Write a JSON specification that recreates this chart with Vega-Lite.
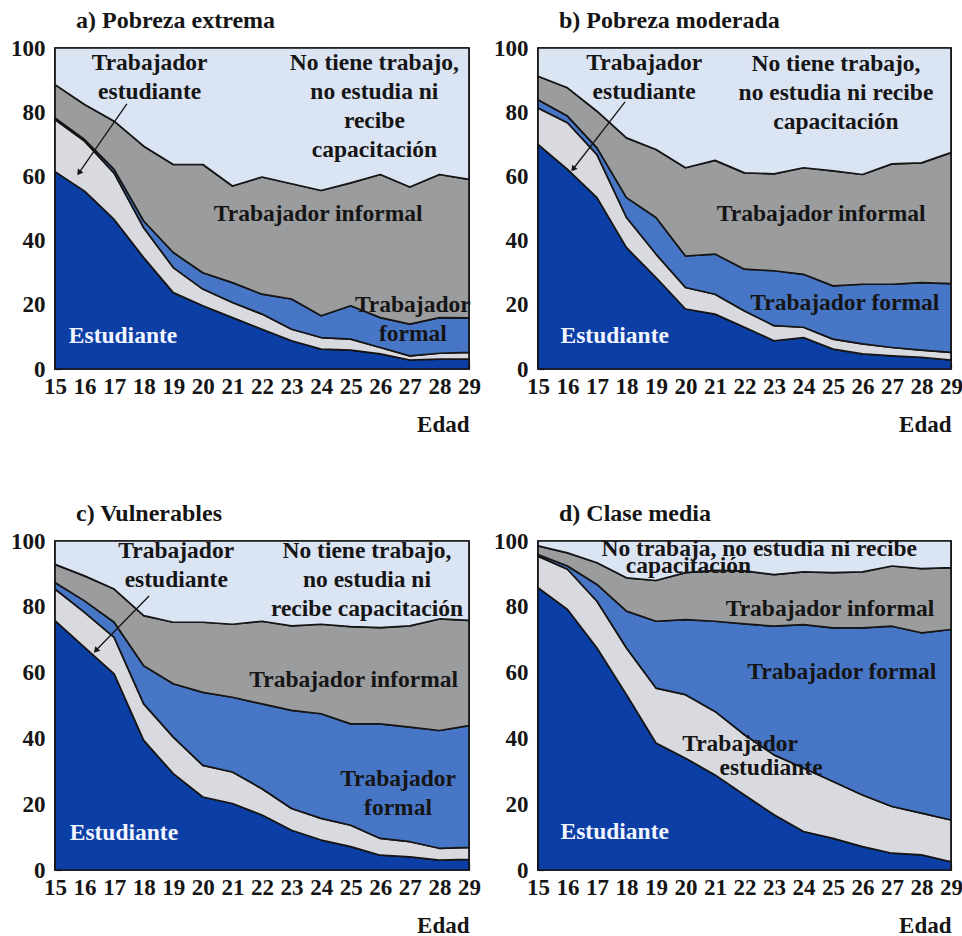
{
  "$schema": "https://vega.github.io/schema/vega-lite/v6.json",
  "background": "white",
  "padding": {"left": 9, "top": 8, "right": 0, "bottom": 0},
  "datasets": {
    "categorias": [
      {"categoria": "estudiante", "orden": 1},
      {"categoria": "trab_estudiante", "orden": 2},
      {"categoria": "formal", "orden": 3},
      {"categoria": "informal", "orden": 4},
      {"categoria": "ninguno", "orden": 5}
    ],
    "series": [
      {"panel": "a", "edad": 15, "estudiante": 61.5, "trab_estudiante": 16.2, "formal": 0.5, "informal": 10.4, "ninguno": 11.4},
      {"panel": "a", "edad": 16, "estudiante": 55.4, "trab_estudiante": 15.6, "formal": 0.5, "informal": 10.9, "ninguno": 17.6},
      {"panel": "a", "edad": 17, "estudiante": 46.6, "trab_estudiante": 14.4, "formal": 1.2, "informal": 15.0, "ninguno": 22.8},
      {"panel": "a", "edad": 18, "estudiante": 34.7, "trab_estudiante": 9.3, "formal": 2.1, "informal": 23.3, "ninguno": 30.6},
      {"panel": "a", "edad": 19, "estudiante": 23.8, "trab_estudiante": 7.8, "formal": 4.7, "informal": 27.4, "ninguno": 36.3},
      {"panel": "a", "edad": 20, "estudiante": 19.7, "trab_estudiante": 5.2, "formal": 5.1, "informal": 33.7, "ninguno": 36.3},
      {"panel": "a", "edad": 21, "estudiante": 16.0, "trab_estudiante": 4.7, "formal": 6.2, "informal": 30.1, "ninguno": 43.0},
      {"panel": "a", "edad": 22, "estudiante": 12.4, "trab_estudiante": 4.7, "formal": 6.2, "informal": 36.5, "ninguno": 40.2},
      {"panel": "a", "edad": 23, "estudiante": 8.8, "trab_estudiante": 3.6, "formal": 9.4, "informal": 35.9, "ninguno": 42.3},
      {"panel": "a", "edad": 24, "estudiante": 6.2, "trab_estudiante": 3.6, "formal": 6.8, "informal": 39.0, "ninguno": 44.4},
      {"panel": "a", "edad": 25, "estudiante": 5.9, "trab_estudiante": 3.4, "formal": 10.4, "informal": 38.3, "ninguno": 42.0},
      {"panel": "a", "edad": 26, "estudiante": 4.7, "trab_estudiante": 2.0, "formal": 9.3, "informal": 44.6, "ninguno": 39.4},
      {"panel": "a", "edad": 27, "estudiante": 2.8, "trab_estudiante": 1.3, "formal": 9.9, "informal": 42.7, "ninguno": 43.3},
      {"panel": "a", "edad": 28, "estudiante": 3.1, "trab_estudiante": 1.8, "formal": 11.1, "informal": 44.6, "ninguno": 39.4},
      {"panel": "a", "edad": 29, "estudiante": 3.1, "trab_estudiante": 2.1, "formal": 10.7, "informal": 43.2, "ninguno": 40.9},

      {"panel": "b", "edad": 15, "estudiante": 70.0, "trab_estudiante": 11.3, "formal": 2.6, "informal": 7.3, "ninguno": 8.8},
      {"panel": "b", "edad": 16, "estudiante": 62.2, "trab_estudiante": 14.5, "formal": 2.1, "informal": 8.8, "ninguno": 12.4},
      {"panel": "b", "edad": 17, "estudiante": 53.4, "trab_estudiante": 13.4, "formal": 2.1, "informal": 11.4, "ninguno": 19.7},
      {"panel": "b", "edad": 18, "estudiante": 37.8, "trab_estudiante": 9.4, "formal": 6.2, "informal": 18.6, "ninguno": 28.0},
      {"panel": "b", "edad": 19, "estudiante": 28.5, "trab_estudiante": 7.3, "formal": 11.4, "informal": 21.2, "ninguno": 31.6},
      {"panel": "b", "edad": 20, "estudiante": 18.7, "trab_estudiante": 6.7, "formal": 9.8, "informal": 27.5, "ninguno": 37.3},
      {"panel": "b", "edad": 21, "estudiante": 17.1, "trab_estudiante": 6.2, "formal": 12.5, "informal": 29.2, "ninguno": 35.0},
      {"panel": "b", "edad": 22, "estudiante": 13.0, "trab_estudiante": 5.1, "formal": 13.0, "informal": 30.0, "ninguno": 38.9},
      {"panel": "b", "edad": 23, "estudiante": 8.8, "trab_estudiante": 4.7, "formal": 17.1, "informal": 30.2, "ninguno": 39.2},
      {"panel": "b", "edad": 24, "estudiante": 9.8, "trab_estudiante": 3.2, "formal": 16.5, "informal": 33.2, "ninguno": 37.3},
      {"panel": "b", "edad": 25, "estudiante": 6.2, "trab_estudiante": 3.1, "formal": 16.6, "informal": 35.8, "ninguno": 38.3},
      {"panel": "b", "edad": 26, "estudiante": 4.7, "trab_estudiante": 3.1, "formal": 18.6, "informal": 34.2, "ninguno": 39.4},
      {"panel": "b", "edad": 27, "estudiante": 4.1, "trab_estudiante": 2.6, "formal": 19.7, "informal": 37.5, "ninguno": 36.1},
      {"panel": "b", "edad": 28, "estudiante": 3.6, "trab_estudiante": 2.3, "formal": 21.0, "informal": 37.3, "ninguno": 35.8},
      {"panel": "b", "edad": 29, "estudiante": 2.8, "trab_estudiante": 2.4, "formal": 21.4, "informal": 40.8, "ninguno": 32.6},

      {"panel": "c", "edad": 15, "estudiante": 75.8, "trab_estudiante": 9.6, "formal": 2.0, "informal": 5.5, "ninguno": 7.1},
      {"panel": "c", "edad": 16, "estudiante": 67.7, "trab_estudiante": 10.6, "formal": 3.5, "informal": 7.6, "ninguno": 10.6},
      {"panel": "c", "edad": 17, "estudiante": 59.6, "trab_estudiante": 11.1, "formal": 4.6, "informal": 10.1, "ninguno": 14.6},
      {"panel": "c", "edad": 18, "estudiante": 39.4, "trab_estudiante": 11.1, "formal": 11.6, "informal": 15.2, "ninguno": 22.7},
      {"panel": "c", "edad": 19, "estudiante": 29.3, "trab_estudiante": 11.1, "formal": 16.2, "informal": 18.7, "ninguno": 24.7},
      {"panel": "c", "edad": 20, "estudiante": 22.2, "trab_estudiante": 9.6, "formal": 22.2, "informal": 21.3, "ninguno": 24.7},
      {"panel": "c", "edad": 21, "estudiante": 20.2, "trab_estudiante": 9.6, "formal": 22.7, "informal": 22.2, "ninguno": 25.3},
      {"panel": "c", "edad": 22, "estudiante": 16.7, "trab_estudiante": 8.0, "formal": 25.8, "informal": 25.1, "ninguno": 24.4},
      {"panel": "c", "edad": 23, "estudiante": 12.1, "trab_estudiante": 6.6, "formal": 29.8, "informal": 25.7, "ninguno": 25.8},
      {"panel": "c", "edad": 24, "estudiante": 9.1, "trab_estudiante": 6.6, "formal": 31.8, "informal": 27.2, "ninguno": 25.3},
      {"panel": "c", "edad": 25, "estudiante": 7.1, "trab_estudiante": 6.5, "formal": 30.8, "informal": 29.6, "ninguno": 26.0},
      {"panel": "c", "edad": 26, "estudiante": 4.5, "trab_estudiante": 5.1, "formal": 34.8, "informal": 29.3, "ninguno": 26.3},
      {"panel": "c", "edad": 27, "estudiante": 4.0, "trab_estudiante": 4.6, "formal": 34.8, "informal": 30.8, "ninguno": 25.8},
      {"panel": "c", "edad": 28, "estudiante": 3.0, "trab_estudiante": 3.6, "formal": 35.8, "informal": 33.9, "ninguno": 23.7},
      {"panel": "c", "edad": 29, "estudiante": 3.2, "trab_estudiante": 3.7, "formal": 37.0, "informal": 32.0, "ninguno": 24.1},

      {"panel": "d", "edad": 15, "estudiante": 85.8, "trab_estudiante": 9.6, "formal": 0.5, "informal": 2.6, "ninguno": 1.5},
      {"panel": "d", "edad": 16, "estudiante": 79.2, "trab_estudiante": 12.2, "formal": 1.0, "informal": 4.0, "ninguno": 3.6},
      {"panel": "d", "edad": 17, "estudiante": 67.5, "trab_estudiante": 14.2, "formal": 5.1, "informal": 6.6, "ninguno": 6.6},
      {"panel": "d", "edad": 18, "estudiante": 53.3, "trab_estudiante": 14.2, "formal": 11.2, "informal": 10.1, "ninguno": 11.2},
      {"panel": "d", "edad": 19, "estudiante": 38.6, "trab_estudiante": 16.7, "formal": 20.3, "informal": 12.4, "ninguno": 12.0},
      {"panel": "d", "edad": 20, "estudiante": 34.0, "trab_estudiante": 19.3, "formal": 22.8, "informal": 14.3, "ninguno": 9.6},
      {"panel": "d", "edad": 21, "estudiante": 28.9, "trab_estudiante": 19.3, "formal": 27.4, "informal": 15.5, "ninguno": 8.9},
      {"panel": "d", "edad": 22, "estudiante": 22.8, "trab_estudiante": 18.3, "formal": 33.7, "informal": 16.1, "ninguno": 9.1},
      {"panel": "d", "edad": 23, "estudiante": 16.8, "trab_estudiante": 18.2, "formal": 39.1, "informal": 15.7, "ninguno": 10.2},
      {"panel": "d", "edad": 24, "estudiante": 11.7, "trab_estudiante": 19.3, "formal": 43.6, "informal": 16.0, "ninguno": 9.4},
      {"panel": "d", "edad": 25, "estudiante": 9.6, "trab_estudiante": 17.3, "formal": 46.7, "informal": 16.8, "ninguno": 9.6},
      {"panel": "d", "edad": 26, "estudiante": 7.1, "trab_estudiante": 15.7, "formal": 50.8, "informal": 17.0, "ninguno": 9.4},
      {"panel": "d", "edad": 27, "estudiante": 5.1, "trab_estudiante": 14.2, "formal": 54.8, "informal": 18.3, "ninguno": 7.6},
      {"panel": "d", "edad": 28, "estudiante": 4.6, "trab_estudiante": 12.7, "formal": 54.8, "informal": 19.5, "ninguno": 8.4},
      {"panel": "d", "edad": 29, "estudiante": 2.5, "trab_estudiante": 12.7, "formal": 57.9, "informal": 18.8, "ninguno": 8.1}
    ],
    "etiquetas": [
      {"panel": "a", "texto": "Trabajador\nestudiante", "edad": 18.2, "valor": 95.3},
      {"panel": "a", "texto": "No tiene trabajo,\nno estudia ni\nrecibe\ncapacitación", "edad": 25.8, "valor": 95.3},
      {"panel": "a", "texto": "Trabajador informal", "edad": 23.9, "valor": 48.3},
      {"panel": "a", "texto": "Trabajador\nformal", "edad": 27.1, "valor": 19.8},
      {"panel": "a", "texto": "Estudiante", "edad": 17.3, "valor": 10.3},
      {"panel": "b", "texto": "Trabajador\nestudiante", "edad": 18.6, "valor": 95.3},
      {"panel": "b", "texto": "No tiene trabajo,\nno estudia ni recibe\ncapacitación", "edad": 25.1, "valor": 95.0},
      {"panel": "b", "texto": "Trabajador informal", "edad": 24.6, "valor": 48.3},
      {"panel": "b", "texto": "Trabajador formal", "edad": 25.4, "valor": 20.6},
      {"panel": "b", "texto": "Estudiante", "edad": 17.6, "valor": 10.3},
      {"panel": "c", "texto": "Trabajador\nestudiante", "edad": 19.1, "valor": 97.0},
      {"panel": "c", "texto": "No tiene trabajo,\nno estudia ni\nrecibe capacitación", "edad": 25.55, "valor": 97.0},
      {"panel": "c", "texto": "Trabajador informal", "edad": 25.1, "valor": 57.6},
      {"panel": "c", "texto": "Trabajador\nformal", "edad": 26.6, "valor": 27.8},
      {"panel": "c", "texto": "Estudiante", "edad": 17.33, "valor": 11.2},
      {"panel": "d", "texto": "No trabaja, no estudia ni recibe", "edad": 22.5, "valor": 97.6},
      {"panel": "d", "texto": "capacitación", "edad": 20.1, "valor": 92.4},
      {"panel": "d", "texto": "Trabajador informal", "edad": 24.9, "valor": 79.3},
      {"panel": "d", "texto": "Trabajador formal", "edad": 25.3, "valor": 60.1},
      {"panel": "d", "texto": "Trabajador", "edad": 21.85, "valor": 38.2},
      {"panel": "d", "texto": "estudiante", "edad": 22.9, "valor": 30.9},
      {"panel": "d", "texto": "Estudiante", "edad": 17.6, "valor": 11.6}
    ],
    "flechas": [
      {"panel": "a", "edad": 17.43, "valor": 82.6, "edad_fin": 15.81, "valor_fin": 61.1},
      {"panel": "b", "edad": 17.95, "valor": 83.2, "edad_fin": 16.19, "valor_fin": 62.3},
      {"panel": "c", "edad": 18.18, "valor": 83.3, "edad_fin": 16.38, "valor_fin": 66.7}
    ]
  },
  "vconcat": [
    {
      "hconcat": [
        {
          "title": {"text": "a) Pobreza extrema"},
          "width": 414,
          "height": 321,
          "layer": [
            {
              "data": {"name": "series"},
              "transform": [
                {"filter": "datum.panel === 'a'"},
                {"fold": ["estudiante", "trab_estudiante", "formal", "informal", "ninguno"], "as": ["categoria", "porcentaje"]},
                {"lookup": "categoria", "from": {"data": {"name": "categorias"}, "key": "categoria", "fields": ["orden"]}}
              ],
              "mark": {"type": "area", "stroke": "#151515", "strokeWidth": 1.7, "strokeJoin": "round"},
              "encoding": {
                "x": {"field": "edad", "type": "quantitative", "title": "Edad", "scale": {"domain": [15, 29], "nice": false, "zero": false}},
                "y": {"field": "porcentaje", "type": "quantitative", "stack": "zero", "title": null, "scale": {"domain": [0, 100], "nice": false}},
                "color": {"field": "categoria", "type": "nominal", "scale": {"domain": ["estudiante", "trab_estudiante", "formal", "informal", "ninguno"], "range": ["#0c3fa6", "#d9dadf", "#4876c6", "#9b9c9e", "#dbe4f3"]}, "legend": null},
                "order": {"field": "orden", "type": "quantitative", "sort": "ascending"}
              }
            },
            {
              "data": {"name": "etiquetas"},
              "transform": [{"filter": "datum.panel === 'a' && datum.texto !== 'Estudiante'"}],
              "mark": {"type": "text", "color": "#151515"},
              "encoding": {"x": {"field": "edad", "type": "quantitative", "title": "Edad"}, "y": {"field": "valor", "type": "quantitative", "title": null}, "text": {"field": "texto"}}
            },
            {
              "data": {"name": "etiquetas"},
              "transform": [{"filter": "datum.panel === 'a' && datum.texto === 'Estudiante'"}],
              "mark": {"type": "text", "color": "#f2f5ff"},
              "encoding": {"x": {"field": "edad", "type": "quantitative", "title": "Edad"}, "y": {"field": "valor", "type": "quantitative", "title": null}, "text": {"field": "texto"}}
            },
            {
              "data": {"name": "flechas"},
              "transform": [{"filter": "datum.panel === 'a'"}],
              "mark": {"type": "rule", "color": "#151515", "strokeWidth": 1.3},
              "encoding": {"x": {"field": "edad", "type": "quantitative", "title": "Edad"}, "y": {"field": "valor", "type": "quantitative", "title": null}, "x2": {"field": "edad_fin"}, "y2": {"field": "valor_fin"}}
            },
            {
              "data": {"name": "flechas"},
              "transform": [{"filter": "datum.panel === 'a'"}],
              "mark": {"type": "point", "shape": "triangle-up", "filled": true, "color": "#151515", "opacity": 1, "size": 45, "angle": 214.8},
              "encoding": {"x": {"field": "edad_fin", "type": "quantitative", "title": "Edad"}, "y": {"field": "valor_fin", "type": "quantitative", "title": null}}
            }
          ]
        },
        {
          "title": {"text": "b) Pobreza moderada"},
          "width": 413,
          "height": 321,
          "layer": [
            {
              "data": {"name": "series"},
              "transform": [
                {"filter": "datum.panel === 'b'"},
                {"fold": ["estudiante", "trab_estudiante", "formal", "informal", "ninguno"], "as": ["categoria", "porcentaje"]},
                {"lookup": "categoria", "from": {"data": {"name": "categorias"}, "key": "categoria", "fields": ["orden"]}}
              ],
              "mark": {"type": "area", "stroke": "#151515", "strokeWidth": 1.7, "strokeJoin": "round"},
              "encoding": {
                "x": {"field": "edad", "type": "quantitative", "title": "Edad", "scale": {"domain": [15, 29], "nice": false, "zero": false}},
                "y": {"field": "porcentaje", "type": "quantitative", "stack": "zero", "title": null, "scale": {"domain": [0, 100], "nice": false}},
                "color": {"field": "categoria", "type": "nominal", "scale": {"domain": ["estudiante", "trab_estudiante", "formal", "informal", "ninguno"], "range": ["#0c3fa6", "#d9dadf", "#4876c6", "#9b9c9e", "#dbe4f3"]}, "legend": null},
                "order": {"field": "orden", "type": "quantitative", "sort": "ascending"}
              }
            },
            {
              "data": {"name": "etiquetas"},
              "transform": [{"filter": "datum.panel === 'b' && datum.texto !== 'Estudiante'"}],
              "mark": {"type": "text", "color": "#151515"},
              "encoding": {"x": {"field": "edad", "type": "quantitative", "title": "Edad"}, "y": {"field": "valor", "type": "quantitative", "title": null}, "text": {"field": "texto"}}
            },
            {
              "data": {"name": "etiquetas"},
              "transform": [{"filter": "datum.panel === 'b' && datum.texto === 'Estudiante'"}],
              "mark": {"type": "text", "color": "#f2f5ff"},
              "encoding": {"x": {"field": "edad", "type": "quantitative", "title": "Edad"}, "y": {"field": "valor", "type": "quantitative", "title": null}, "text": {"field": "texto"}}
            },
            {
              "data": {"name": "flechas"},
              "transform": [{"filter": "datum.panel === 'b'"}],
              "mark": {"type": "rule", "color": "#151515", "strokeWidth": 1.3},
              "encoding": {"x": {"field": "edad", "type": "quantitative", "title": "Edad"}, "y": {"field": "valor", "type": "quantitative", "title": null}, "x2": {"field": "edad_fin"}, "y2": {"field": "valor_fin"}}
            },
            {
              "data": {"name": "flechas"},
              "transform": [{"filter": "datum.panel === 'b'"}],
              "mark": {"type": "point", "shape": "triangle-up", "filled": true, "color": "#151515", "opacity": 1, "size": 45, "angle": 219.5},
              "encoding": {"x": {"field": "edad_fin", "type": "quantitative", "title": "Edad"}, "y": {"field": "valor_fin", "type": "quantitative", "title": null}}
            }
          ]
        }
      ],
      "spacing": 10
    },
    {
      "hconcat": [
        {
          "title": {"text": "c) Vulnerables"},
          "width": 414,
          "height": 329,
          "layer": [
            {
              "data": {"name": "series"},
              "transform": [
                {"filter": "datum.panel === 'c'"},
                {"fold": ["estudiante", "trab_estudiante", "formal", "informal", "ninguno"], "as": ["categoria", "porcentaje"]},
                {"lookup": "categoria", "from": {"data": {"name": "categorias"}, "key": "categoria", "fields": ["orden"]}}
              ],
              "mark": {"type": "area", "stroke": "#151515", "strokeWidth": 1.7, "strokeJoin": "round"},
              "encoding": {
                "x": {"field": "edad", "type": "quantitative", "title": "Edad", "scale": {"domain": [15, 29], "nice": false, "zero": false}},
                "y": {"field": "porcentaje", "type": "quantitative", "stack": "zero", "title": null, "scale": {"domain": [0, 100], "nice": false}},
                "color": {"field": "categoria", "type": "nominal", "scale": {"domain": ["estudiante", "trab_estudiante", "formal", "informal", "ninguno"], "range": ["#0c3fa6", "#d9dadf", "#4876c6", "#9b9c9e", "#dbe4f3"]}, "legend": null},
                "order": {"field": "orden", "type": "quantitative", "sort": "ascending"}
              }
            },
            {
              "data": {"name": "etiquetas"},
              "transform": [{"filter": "datum.panel === 'c' && datum.texto !== 'Estudiante'"}],
              "mark": {"type": "text", "color": "#151515"},
              "encoding": {"x": {"field": "edad", "type": "quantitative", "title": "Edad"}, "y": {"field": "valor", "type": "quantitative", "title": null}, "text": {"field": "texto"}}
            },
            {
              "data": {"name": "etiquetas"},
              "transform": [{"filter": "datum.panel === 'c' && datum.texto === 'Estudiante'"}],
              "mark": {"type": "text", "color": "#f2f5ff"},
              "encoding": {"x": {"field": "edad", "type": "quantitative", "title": "Edad"}, "y": {"field": "valor", "type": "quantitative", "title": null}, "text": {"field": "texto"}}
            },
            {
              "data": {"name": "flechas"},
              "transform": [{"filter": "datum.panel === 'c'"}],
              "mark": {"type": "rule", "color": "#151515", "strokeWidth": 1.3},
              "encoding": {"x": {"field": "edad", "type": "quantitative", "title": "Edad"}, "y": {"field": "valor", "type": "quantitative", "title": null}, "x2": {"field": "edad_fin"}, "y2": {"field": "valor_fin"}}
            },
            {
              "data": {"name": "flechas"},
              "transform": [{"filter": "datum.panel === 'c'"}],
              "mark": {"type": "point", "shape": "triangle-up", "filled": true, "color": "#151515", "opacity": 1, "size": 45, "angle": 222.4},
              "encoding": {"x": {"field": "edad_fin", "type": "quantitative", "title": "Edad"}, "y": {"field": "valor_fin", "type": "quantitative", "title": null}}
            }
          ]
        },
        {
          "title": {"text": "d) Clase media"},
          "width": 413,
          "height": 329,
          "layer": [
            {
              "data": {"name": "series"},
              "transform": [
                {"filter": "datum.panel === 'd'"},
                {"fold": ["estudiante", "trab_estudiante", "formal", "informal", "ninguno"], "as": ["categoria", "porcentaje"]},
                {"lookup": "categoria", "from": {"data": {"name": "categorias"}, "key": "categoria", "fields": ["orden"]}}
              ],
              "mark": {"type": "area", "stroke": "#151515", "strokeWidth": 1.7, "strokeJoin": "round"},
              "encoding": {
                "x": {"field": "edad", "type": "quantitative", "title": "Edad", "scale": {"domain": [15, 29], "nice": false, "zero": false}},
                "y": {"field": "porcentaje", "type": "quantitative", "stack": "zero", "title": null, "scale": {"domain": [0, 100], "nice": false}},
                "color": {"field": "categoria", "type": "nominal", "scale": {"domain": ["estudiante", "trab_estudiante", "formal", "informal", "ninguno"], "range": ["#0c3fa6", "#d9dadf", "#4876c6", "#9b9c9e", "#dbe4f3"]}, "legend": null},
                "order": {"field": "orden", "type": "quantitative", "sort": "ascending"}
              }
            },
            {
              "data": {"name": "etiquetas"},
              "transform": [{"filter": "datum.panel === 'd' && datum.texto !== 'Estudiante'"}],
              "mark": {"type": "text", "color": "#151515"},
              "encoding": {"x": {"field": "edad", "type": "quantitative", "title": "Edad"}, "y": {"field": "valor", "type": "quantitative", "title": null}, "text": {"field": "texto"}}
            },
            {
              "data": {"name": "etiquetas"},
              "transform": [{"filter": "datum.panel === 'd' && datum.texto === 'Estudiante'"}],
              "mark": {"type": "text", "color": "#f2f5ff"},
              "encoding": {"x": {"field": "edad", "type": "quantitative", "title": "Edad"}, "y": {"field": "valor", "type": "quantitative", "title": null}, "text": {"field": "texto"}}
            }
          ]
        }
      ],
      "spacing": 10
    }
  ],
  "spacing": 64,
  "config": {
    "font": "Liberation Serif",
    "view": {"stroke": "#151515", "strokeWidth": 1.7},
    "title": {"anchor": "start", "frame": "group", "font": "Liberation Serif", "fontSize": 24, "fontWeight": "bold", "color": "#151515", "offset": 0, "dx": 21},
    "axis": {
      "labelFont": "Liberation Serif", "labelFontSize": 23, "labelFontWeight": "bold", "labelColor": "#151515",
      "titleFont": "Liberation Serif", "titleFontSize": 23, "titleFontWeight": "bold", "titleColor": "#151515",
      "domain": false, "grid": false, "tickColor": "#151515", "tickSize": -6, "tickWidth": 1.2,
      "labelOverlap": false, "labelFlush": false
    },
    "axisX": {"tickCount": 14, "labelPadding": 12, "titleAnchor": "end", "titlePadding": 15},
    "axisY": {"tickCount": 5, "labelPadding": 16},
    "text": {"font": "Liberation Serif", "fontSize": 23.5, "fontWeight": "bold", "lineBreak": "\n", "lineHeight": 29, "align": "center", "baseline": "middle"}
  }
}
